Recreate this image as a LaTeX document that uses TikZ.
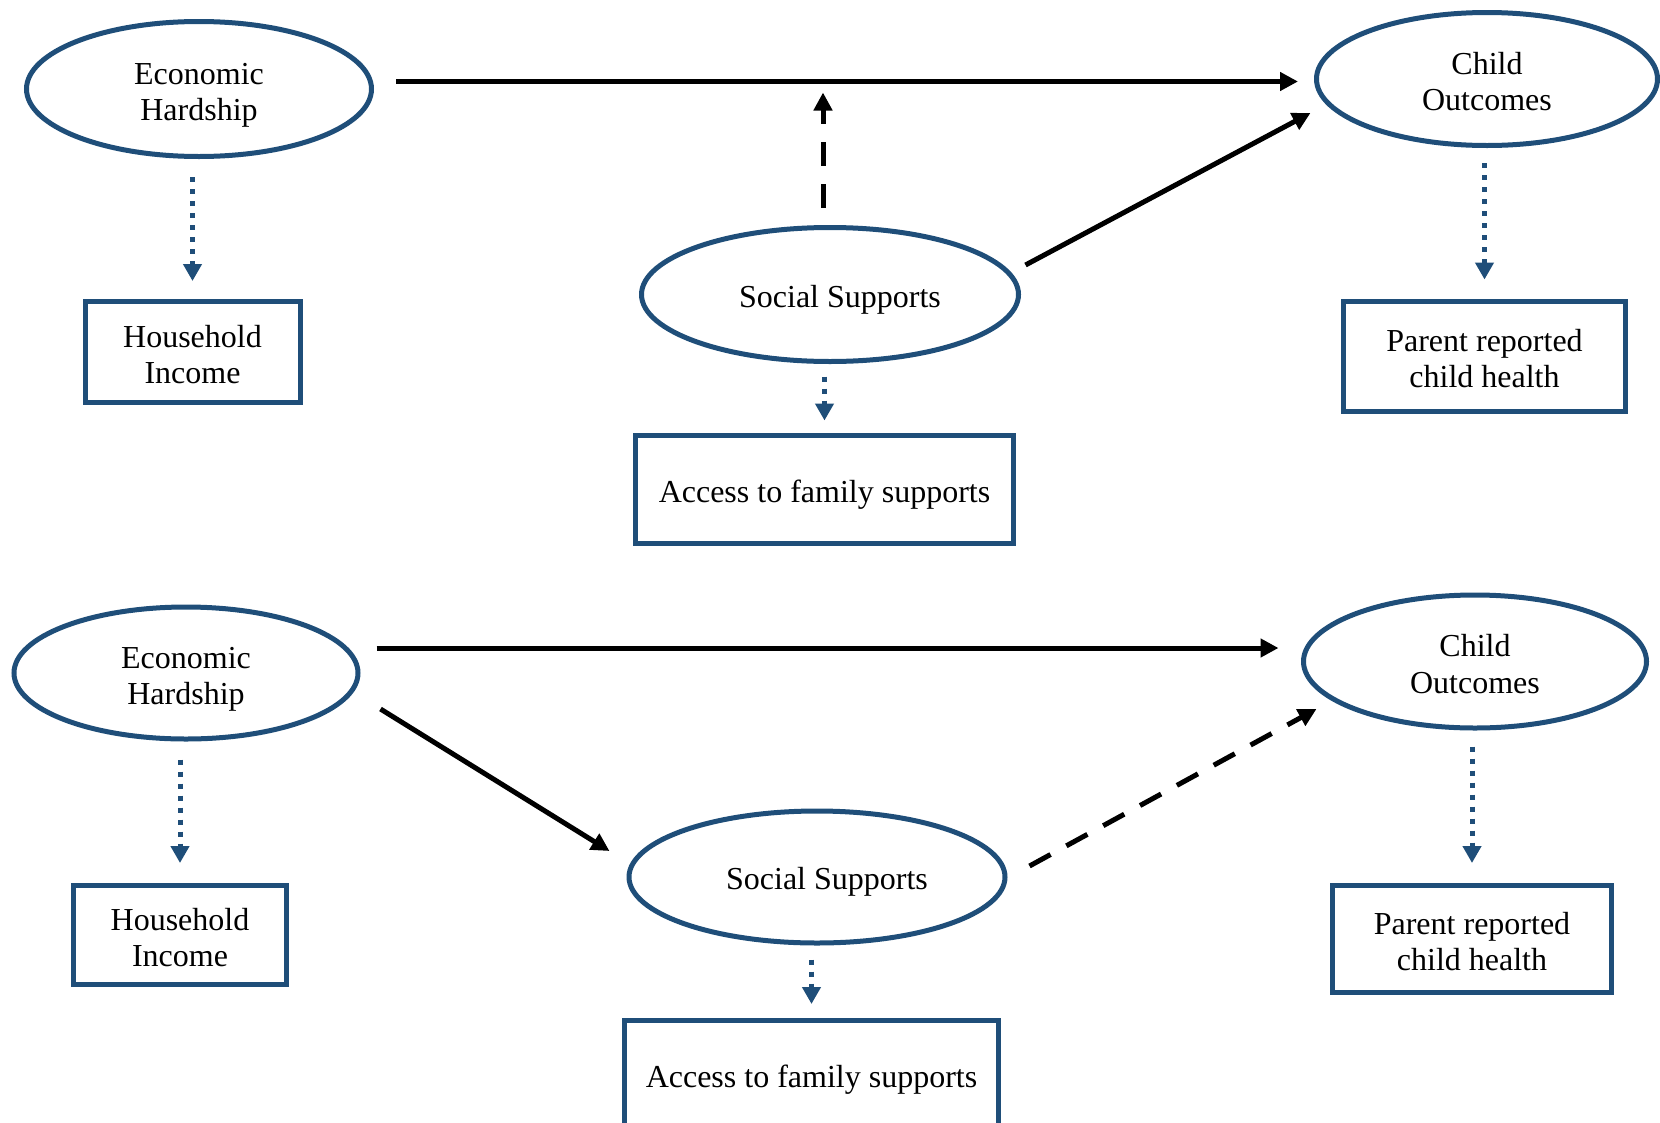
\documentclass[tikz,border=0pt]{standalone}
\usepackage{fontspec}
\setmainfont{Liberation Serif}
\usetikzlibrary{shapes.geometric,arrows.meta,calc}
\definecolor{navy}{RGB}{31,78,121}
\newcommand\twoln[2]{\begin{tabular}[b]{@{}c@{}}#1\\#2\end{tabular}}
\begin{document}
\begin{tikzpicture}[x=1pt,y=-1pt,
  txt/.style={font=\fontsize{32}{36.5}\selectfont},
  oneln/.style={text height=29pt,text depth=4pt},
  twoln/.style={text height=70.5pt,text depth=7pt},
  oval/.style={ellipse,draw=navy,line width=5pt,inner sep=0pt,txt},
  rbox/.style={rectangle,draw=navy,line width=5pt,inner sep=0pt,txt},
  solidarr/.style={draw=black,line width=5pt,-{Triangle[length=18pt,width=18pt]}},
  dasharr/.style={solidarr,dash pattern=on 24pt off 18pt},
  dotarr/.style={draw=navy,line width=5pt,dash pattern=on 5pt off 7pt,-{Triangle[length=17pt,width=18pt]}},
]
\useasboundingbox (0,0) rectangle (1660,1122);
\clip (0,0) rectangle (1660,1122);

% ---- top model ----
\node[oval,twoln,minimum width=345pt,minimum height=135pt] (EH1) at (199,89) {\twoln{Economic}{Hardship}};
\node[oval,twoln,minimum width=341pt,minimum height=133pt] (CO1) at (1487,79) {\twoln{Child}{Outcomes}};
\node[oval,oneln,minimum width=377pt,minimum height=134pt] (SS1) at (830,294.5) {\hspace*{20pt}Social Supports};
\node[rbox,twoln,minimum width=215pt,minimum height=101pt] (HI1) at (192.5,352) {\twoln{Household}{Income}};
\node[rbox,twoln,minimum width=282pt,minimum height=110pt] (PR1) at (1484.5,356) {\twoln{Parent reported}{child health}};
\node[rbox,oneln,minimum width=378pt,minimum height=108pt] (AF1) at (824.5,489.5) {Access to family supports};

\draw[solidarr] ($(EH1.east)+(22,-7.5)$) -- ($(CO1.west)+(-16,2.5)$);
\draw[dasharr] ($(SS1.north)+(-7,-17.5)$) -- ($(SS1.north)+(-7,-132.5)$);
\draw[solidarr] ($(SS1.east)+(4.5,-29.5)$) -- ($(CO1.west)+(-3.5,34)$);

\draw[dotarr,shorten <=18pt,shorten >=18pt] (HI1.north |- EH1.south) -- (HI1.north);
\draw[dotarr,shorten <=15pt,shorten >=19pt] (PR1.north |- CO1.south) -- (PR1.north);
\draw[dotarr,shorten <=12.5pt,shorten >=12.5pt] (AF1.north |- SS1.south) -- (AF1.north);

% ---- bottom model ----
\node[oval,twoln,minimum width=344pt,minimum height=132pt] (EH2) at (186,673) {\twoln{Economic}{Hardship}};
\node[oval,twoln,minimum width=343pt,minimum height=133pt] (CO2) at (1475,661.5) {\twoln{Child}{Outcomes}};
\node[oval,oneln,minimum width=376pt,minimum height=132pt] (SS2) at (817,877) {\hspace*{20pt}Social Supports};
\node[rbox,twoln,minimum width=213pt,minimum height=99pt] (HI2) at (180,935) {\twoln{Household}{Income}};
\node[rbox,twoln,minimum width=279pt,minimum height=107pt] (PR2) at (1472,939) {\twoln{Parent reported}{child health}};
\node[rbox,oneln,minimum width=374pt,minimum height=108pt] (AF2) at (811.5,1074.5) {Access to family supports};

\draw[solidarr] ($(EH2.east)+(16,-25)$) -- ($(CO2.west)+(-22.5,-13.5)$);
\draw[solidarr] ($(EH2.east)+(20,36)$) -- ($(SS2.west)+(-17,-26)$);
\draw[dasharr] ($(SS2.east)+(22,-11)$) -- ($(CO2.west)+(15.5,47.5)$);

\draw[dotarr,shorten <=18pt,shorten >=20pt] (HI2.north |- EH2.south) -- (HI2.north);
\draw[dotarr,shorten <=16pt,shorten >=20pt] (PR2.north |- CO2.south) -- (PR2.north);
\draw[dotarr,shorten <=14pt,shorten >=14pt] (AF2.north |- SS2.south) -- (AF2.north);
\end{tikzpicture}
\end{document}
